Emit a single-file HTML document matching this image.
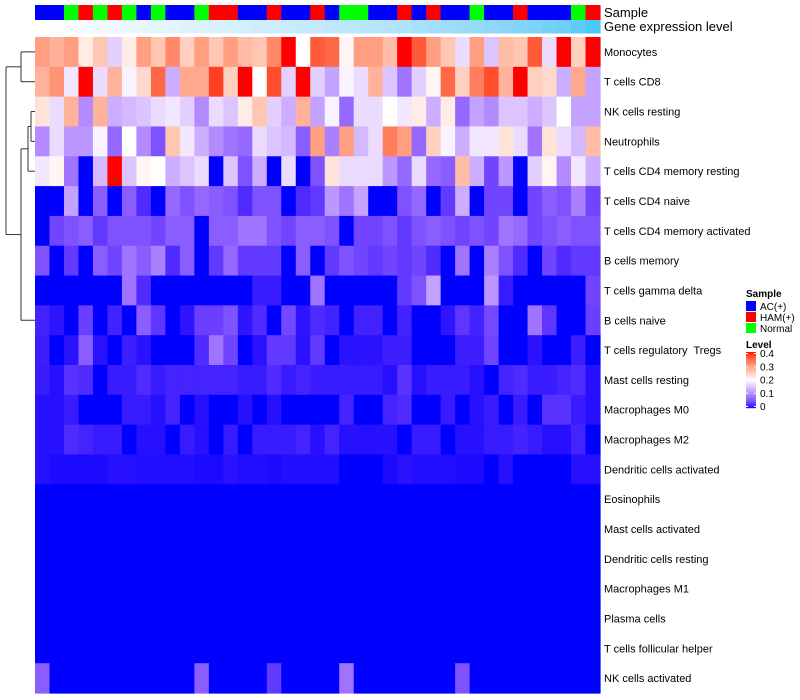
<!DOCTYPE html>
<html><head><meta charset="utf-8"><style>
html,body{margin:0;padding:0;background:#fff;}
svg{display:block;font-family:"Liberation Sans",sans-serif;}
#rowLabels text{white-space:pre;}
</style></head><body>
<svg id="chart" width="800" height="700" viewBox="0 0 800 700">
  <g id="dendro" stroke="#333" stroke-width="1" fill="none"></g>
  <g id="cells"></g>
  <g id="sampleBar"></g>
  <g id="geneBar"></g>
  <g id="rowLabels" font-size="11" fill="#000"></g>
  <text x="604" y="17" font-size="13">Sample</text>
  <text x="604" y="31" font-size="13">Gene expression level</text>
  <g id="legend">
    <text x="746" y="297" font-size="10" font-weight="bold">Sample</text>
    <rect x="746" y="301" width="10" height="10" fill="#0000FF"/>
    <text x="760" y="310" font-size="10">AC(+)</text>
    <rect x="746" y="312" width="10" height="10" fill="#FF0000"/>
    <text x="760" y="321" font-size="10">HAM(+)</text>
    <rect x="746" y="323" width="10" height="10" fill="#00FF00"/>
    <text x="760" y="332" font-size="10">Normal</text>
    <text x="746" y="348" font-size="10" font-weight="bold">Level</text>
    <g id="colorbar"></g>
  </g>
</svg>
<script>
const rowNames = ["Monocytes","T cells CD8","NK cells resting","Neutrophils","T cells CD4 memory resting","T cells CD4 naive","T cells CD4 memory activated","B cells memory","T cells gamma delta","B cells naive","T cells regulatory  Tregs","Mast cells resting","Macrophages M0","Macrophages M2","Dendritic cells activated","Eosinophils","Mast cells activated","Dendritic cells resting","Macrophages M1","Plasma cells","T cells follicular helper","NK cells activated"];
const sampleGroups = ["A","A","N","H","N","H","N","A","N","A","A","N","H","H","A","A","H","A","A","H","A","N","N","A","A","H","A","H","A","A","N","A","A","H","A","A","A","N","H"];
const geneExpr = [0,0.03,0.05,0.08,0.1,0.12,0.14,0.16,0.18,0.2,0.22,0.24,0.26,0.28,0.3,0.32,0.34,0.36,0.38,0.4,0.42,0.44,0.46,0.48,0.5,0.53,0.56,0.59,0.62,0.65,0.68,0.71,0.74,0.77,0.8,0.84,0.88,0.93,1];
const levelTicks = [0,0.1,0.2,0.3,0.4];
const rowMonocytes = [0.3,0.28,0.3,0.22,0.26,0.16,0.22,0.3,0.26,0.32,0.25,0.3,0.26,0.3,0.27,0.26,0.32,0.4,0.2,0.36,0.35,0.21,0.3,0.3,0.27,0.4,0.36,0.3,0.26,0.17,0.3,0.15,0.27,0.26,0.36,0.17,0.4,0.25,0.4];
const rowCD8 = [0.28,0.31,0.18,0.4,0.17,0.28,0.19,0.24,0.35,0.13,0.29,0.29,0.38,0.25,0.4,0.2,0.37,0.16,0.4,0.16,0.12,0.19,0.17,0.28,0.15,0.08,0.16,0.21,0.35,0.25,0.33,0.37,0.28,0.4,0.25,0.24,0.13,0.29,0.12];
const rowNKrest = [0.23,0.17,0.28,0.1,0.28,0.13,0.14,0.15,0.17,0.18,0.16,0.1,0.17,0.15,0.22,0.26,0.16,0.13,0.28,0.12,0.19,0.07,0.17,0.17,0.2,0.18,0.22,0.13,0.22,0.07,0.12,0.1,0.15,0.15,0.13,0.15,0.2,0.12,0.12];
const rowNeutro = [0.1,0.17,0.11,0.11,0.19,0.07,0.2,0.1,0.05,0.26,0.18,0.13,0.1,0.08,0.07,0.17,0.15,0.14,0.06,0.3,0.09,0.3,0.14,0.17,0.33,0.3,0.07,0.25,0.19,0.13,0.18,0.18,0.23,0.17,0.08,0.23,0.17,0.14,0.27];
const rowCD4mr = [0.18,0.21,0.08,0,0.14,0.4,0.15,0.21,0.2,0.13,0.15,0.17,0,0.15,0.05,0.13,0,0.17,0,0.05,0.23,0.17,0.17,0.17,0.11,0.07,0.17,0.07,0.06,0.27,0.13,0.04,0.11,0,0.16,0.21,0.1,0.18,0.13];
const rowCD4naive = [0,0,0.12,0,0.06,0,0.06,0.02,0,0.07,0.05,0.07,0.06,0.05,0.02,0.05,0.05,0,0.02,0.03,0.11,0.08,0.12,0,0,0.05,0.07,0,0.03,0.13,0,0.04,0.04,0,0.04,0.06,0.05,0.09,0.04];
const rowCD4ma = [0,0.04,0.05,0.06,0.03,0.05,0.05,0.05,0.04,0.06,0.06,0,0.06,0.06,0.08,0.08,0.05,0.04,0.06,0.06,0.05,0,0.04,0.04,0.05,0.03,0.05,0.06,0.05,0.04,0.05,0.04,0.08,0.07,0.04,0.05,0.06,0.05,0.05];
const rowBmem = [0.05,0,0.03,0,0.06,0.04,0.08,0.06,0.09,0.02,0.06,0,0.03,0.07,0.03,0.03,0.03,0,0.06,0,0.03,0.05,0.04,0.03,0.04,0.03,0.04,0.02,0,0.08,0,0.09,0.05,0.02,0,0.04,0.02,0.03,0.03];
const rowGD = [0,0,0,0,0,0,0.08,0.02,0,0,0,0,0,0,0,0.01,0.01,0,0,0.08,0,0,0,0,0,0.03,0.05,0.12,0,0,0,0.11,0.01,0,0,0,0,0,0.04];
const rowBnaive = [0.014,0.007,0,0.035,0,0.014,0,0.06,0.028,0,0.007,0.035,0.035,0.05,0.007,0.02,0,0.042,0.007,0.02,0.014,0,0.014,0.014,0,0.014,0,0,0.007,0.028,0.014,0.042,0,0,0.08,0.028,0,0,0.035];
const rowTregs = [0.012,0,0.006,0.06,0.006,0,0.012,0.006,0,0,0,0.02,0.08,0.04,0,0.006,0.03,0.03,0.006,0.03,0,0.006,0.006,0.006,0.012,0.012,0,0,0,0.012,0.012,0.04,0,0,0.006,0,0,0.012,0];
const rowMastRest = [0.01,0.005,0.025,0.02,0,0.01,0.01,0.02,0.01,0.015,0.015,0.015,0.015,0.015,0.01,0.01,0.02,0.01,0.015,0.01,0.01,0.01,0.01,0.01,0.005,0.025,0.005,0.01,0.01,0.01,0.005,0,0.015,0.02,0.01,0.01,0.015,0.02,0.005];
const rowM0 = [0.005,0.005,0.01,0,0,0,0.01,0.01,0.005,0.015,0,0.005,0,0,0.005,0,0.005,0,0,0,0,0.015,0,0,0.015,0.02,0,0,0.01,0,0.005,0.01,0,0.01,0,0.025,0.025,0.01,0.005];
const rowM2 = [0.005,0.005,0.02,0.015,0.01,0.01,0,0.005,0.005,0,0.01,0.005,0,0.01,0,0.01,0.01,0.01,0.015,0.005,0.015,0.005,0.005,0.005,0.005,0,0.01,0.01,0,0.005,0.005,0.01,0.01,0.015,0.01,0.005,0.005,0.015,0];
const rowDCact = [0.005,0.003,0.003,0.003,0.003,0.005,0.005,0.004,0.004,0.004,0.004,0.003,0.003,0.006,0.004,0.004,0.003,0.004,0.004,0.004,0.004,0,0,0,0.003,0.006,0.004,0.004,0.004,0.003,0.003,0,0.005,0,0,0,0,0.005,0.005];
const rowZero = [0,0,0,0,0,0,0,0,0,0,0,0,0,0,0,0,0,0,0,0,0,0,0,0,0,0,0,0,0,0,0,0,0,0,0,0,0,0,0];
const rowNKact = [0.06,0,0,0,0,0,0,0,0,0,0,0.06,0,0,0,0,0.03,0,0,0,0,0.08,0,0,0,0,0,0,0,0.05,0,0,0,0,0,0,0,0,0];
const matrix = [rowMonocytes,rowCD8,rowNKrest,rowNeutro,rowCD4mr,rowCD4naive,rowCD4ma,rowBmem,rowGD,rowBnaive,rowTregs,rowMastRest,rowM0,rowM2,rowDCact,rowZero,rowZero,rowZero,rowZero,rowZero,rowZero,rowNKact];

const NS='http://www.w3.org/2000/svg';
function mk(tag, attrs, parent){const e=document.createElementNS(NS,tag);for(const k in attrs)e.setAttribute(k,attrs[k]);parent.appendChild(e);return e;}
function toLin(c){c/=255;return c<=0.04045?c/12.92:Math.pow((c+0.055)/1.055,2.4);}
function fromLin(c){c=c<=0.0031308?12.92*c:1.055*Math.pow(c,1/2.4)-0.055;return Math.max(0,Math.min(255,Math.round(c*255)));}
function rgb2lab(r,g,b){r=toLin(r);g=toLin(g);b=toLin(b);
 let x=(r*0.4124+g*0.3576+b*0.1805)/0.95047,y=r*0.2126+g*0.7152+b*0.0722,z=(r*0.0193+g*0.1192+b*0.9505)/1.08883;
 const f=t=>t>0.008856?Math.cbrt(t):7.787*t+16/116;x=f(x);y=f(y);z=f(z);return [116*y-16,500*(x-y),200*(y-z)];}
function lab2rgb(L,a,b){let y=(L+16)/116,x=a/500+y,z=y-b/200;const fi=t=>t*t*t>0.008856?t*t*t:(t-16/116)/7.787;
 x=fi(x)*0.95047;y=fi(y);z=fi(z)*1.08883;
 const r=x*3.2406+y*-1.5372+z*-0.4986,g=x*-0.9689+y*1.8758+z*0.0415,bb=x*0.0557+y*-0.2040+z*1.0570;
 return `rgb(${fromLin(r)},${fromLin(g)},${fromLin(bb)})`;}
const cBlue=rgb2lab(0,0,255),cWhite=rgb2lab(255,255,255),cRed=rgb2lab(255,0,0);
function colorOf(v){v=Math.max(0,Math.min(0.4,v));let a,b,t;
 if(v<=0.2){a=cBlue;b=cWhite;t=v/0.2;}else{a=cWhite;b=cRed;t=(v-0.2)/0.2;}
 return lab2rgb(a[0]+(b[0]-a[0])*t,a[1]+(b[1]-a[1])*t,a[2]+(b[2]-a[2])*t);}
function geneColor(t){const c0=rgb2lab(255,255,255),c1=rgb2lab(74,200,246);
 return lab2rgb(c0[0]+(c1[0]-c0[0])*t,c0[1]+(c1[1]-c0[1])*t,c0[2]+(c1[2]-c0[2])*t);}
const groupColor={A:"#0000FF",H:"#FF0000",N:"#00FF00"};

const X0=35,X1=600,Y0=37,Y1=693;
const nCol=sampleGroups.length,nRow=rowNames.length;
const cw=(X1-X0)/nCol,rh=(Y1-Y0)/nRow;
const xPos=j=>X0+j*cw, yPos=i=>Y0+i*rh;

const cells=document.getElementById('cells');
matrix.forEach((row,i)=>row.forEach((v,j)=>{
  const r=mk('rect',{x:xPos(j).toFixed(2),y:yPos(i).toFixed(2),width:(cw+0.6).toFixed(2),height:(rh+0.6).toFixed(2),fill:colorOf(v)},cells);
  
  
}));
const sb=document.getElementById('sampleBar');
sampleGroups.forEach((g,j)=>{
  const r=mk('rect',{x:xPos(j).toFixed(2),y:5,width:(cw+0.6).toFixed(2),height:15,fill:groupColor[g]},sb);
  
  
});
const gb=document.getElementById('geneBar');
geneExpr.forEach((g,j)=>{
  const r=mk('rect',{x:xPos(j).toFixed(2),y:20,width:(cw+0.6).toFixed(2),height:13.5,fill:geneColor(g)},gb);
  
  
});
const rl=document.getElementById('rowLabels');
rowNames.forEach((n,i)=>{
  const t=mk('text',{x:604,y:(yPos(i)+rh/2+4).toFixed(1)},rl);
  
  
  t.textContent=n;
});
const cb=document.getElementById('colorbar');
const cbTop=352,cbBot=408,cbMax=0.4;
for(let k=0;k<56;k++){const v=cbMax*(1-(k+0.5)/56);
  mk('rect',{x:746,y:cbTop+k,width:10,height:1.2,fill:colorOf(v)},cb);}
levelTicks.forEach(v=>{
  const y=cbBot-(v/cbMax)*(cbBot-cbTop-3)-1.5;
  mk('line',{x1:746,x2:748,y1:y,y2:y,stroke:'#fff','stroke-width':1},cb);
  mk('line',{x1:754,x2:756,y1:y,y2:y,stroke:'#fff','stroke-width':1},cb);
  const t=mk('text',{x:760,y:(y+3.5).toFixed(1),'font-size':10},cb);
  
  
  t.textContent=String(v);
});
const dg=document.getElementById('dendro');
const rc=i=>yPos(i)+rh/2;
function L(x1,y1,x2,y2){mk('line',{x1,y1,x2,y2},dg);}
L(21,rc(0),35,rc(0));L(21,rc(1),35,rc(1));L(21,rc(0),21,rc(1));
const mTop=(rc(0)+rc(1))/2;
L(31,rc(2),35,rc(2));L(31,rc(3),35,rc(3));L(31,rc(2),31,rc(3));
const mNN=(rc(2)+rc(3))/2;
L(28,mNN,31,mNN);L(28,rc(4),35,rc(4));L(28,mNN,28,rc(4));
const mMid=(mNN+rc(4))/2;
L(40,rc(5),40,rc(21));
for(let i=5;i<=21;i++){L(40,rc(i),35,rc(i));}
const mLow=(rc(5)+rc(13))/2;
L(21,mMid,28,mMid);L(21,mLow,40,mLow);L(21,mMid,21,mLow);
const mRight=(mMid+mLow)/2;
L(6,mTop,21,mTop);L(6,mRight,21,mRight);L(6,mTop,6,mRight);
</script>
</body></html>
